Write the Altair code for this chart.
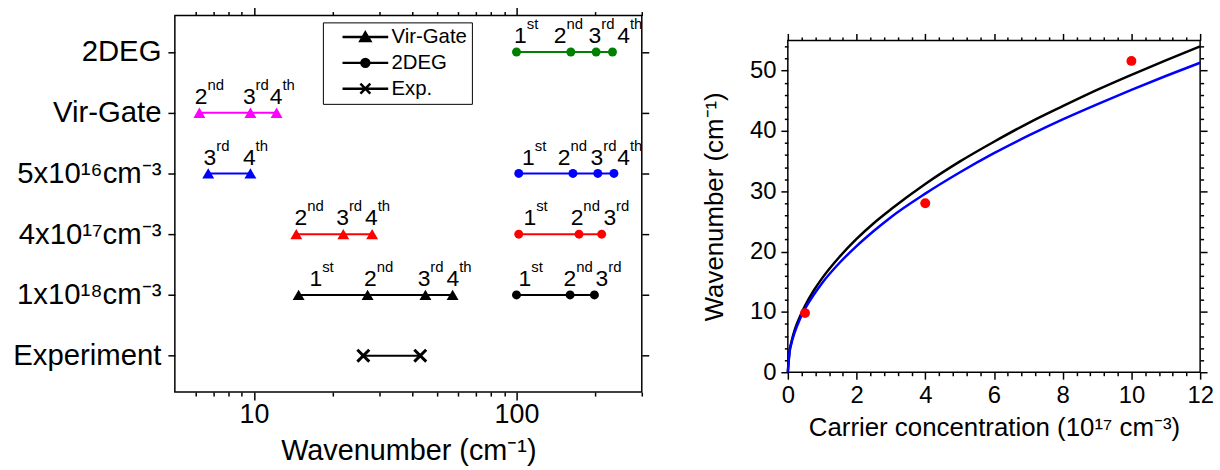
import altair as alt
import pandas as pd

FONT = "Liberation Sans"

# ---------------- left panel data ----------------
row_labels = ["2DEG", "Vir-Gate", "5x10¹⁶cm⁻³", "4x10¹⁷cm⁻³", "1x10¹⁸cm⁻³", "Experiment"]
legend_kinds = ["Vir-Gate", "2DEG", "Exp."]

# wavenumbers (cm-1), order numbers of the modes and the x where each order label sits
deg_2deg_x = [100, 161, 201, 232]
deg_2deg_ord = [1, 2, 3, 4]
deg_2deg_lx = [109.4, 155.0, 210.2, 270.5]

vg_vg_x = [6.2, 9.7, 12.2]
vg_vg_ord = [2, 3, 4]
vg_vg_lx = [6.65, 10.15, 12.84]

n16_vg_x = [6.7, 9.7]
n16_vg_ord = [3, 4]
n16_vg_lx = [7.19, 10.15]

n16_2deg_x = [102, 164, 204, 235]
n16_2deg_ord = [1, 2, 3, 4]
n16_2deg_lx = [117.3, 160.5, 213.9, 270.5]

n17_vg_x = [14.5, 21.9, 28.2]
n17_vg_ord = [2, 3, 4]
n17_vg_lx = [15.96, 23.0, 29.6]

n17_2deg_x = [102, 173, 211]
n17_2deg_ord = [1, 2, 3]
n17_2deg_lx = [118.8, 179.7, 239.5]

n18_vg_x = [14.8, 27.1, 45.0, 57.1]
n18_vg_ord = [1, 2, 3, 4]
n18_vg_lx = [18.19, 29.37, 46.99, 60.5]

n18_2deg_x = [100, 160, 198]
n18_2deg_ord = [1, 2, 3]
n18_2deg_lx = [113.8, 169.0, 223.4]

exp_x = [26.1, 43.0]

SUFFIX = {1: "st", 2: "nd", 3: "rd", 4: "th"}

series = [
    (row_labels[0], "2DEG", "#008000", deg_2deg_x, deg_2deg_ord, deg_2deg_lx),
    (row_labels[1], "Vir-Gate", "#ff00ff", vg_vg_x, vg_vg_ord, vg_vg_lx),
    (row_labels[2], "Vir-Gate", "#0000ff", n16_vg_x, n16_vg_ord, n16_vg_lx),
    (row_labels[2], "2DEG", "#0000ff", n16_2deg_x, n16_2deg_ord, n16_2deg_lx),
    (row_labels[3], "Vir-Gate", "#ff0000", n17_vg_x, n17_vg_ord, n17_vg_lx),
    (row_labels[3], "2DEG", "#ff0000", n17_2deg_x, n17_2deg_ord, n17_2deg_lx),
    (row_labels[4], "Vir-Gate", "#000000", n18_vg_x, n18_vg_ord, n18_vg_lx),
    (row_labels[4], "2DEG", "#000000", n18_2deg_x, n18_2deg_ord, n18_2deg_lx),
    (row_labels[5], "Exp.", "#000000", exp_x, [], []),
]

pts, labs = [], []
for i, (row, model, col, xs, ords, lxs) in enumerate(series):
    for x in xs:
        pts.append({"grp": i, "row": row, "model": model, "color": col, "x": x})
    for o, lx in zip(ords, lxs):
        labs.append({"row": row, "lx": lx, "digit": str(o), "suf": SUFFIX[o]})
pts_df = pd.DataFrame(pts)
labs_df = pd.DataFrame(labs)
legend_df = pd.DataFrame({"kind": legend_kinds})

X_PATH = "M-1,-1L1,1M-1,1L1,-1"
# legend symbols: a line with the marker on it (unit = 5 px at symbolSize 100)
legend_paths = [
    "M1.0,0L10.2,0M5.6,-0.9L6.6,0.8L4.6,0.8Z",
    "M1.0,0L10.2,0M6.4,0A0.8,0.8,0,1,1,4.8,0A0.8,0.8,0,1,1,6.4,0Z",
    "M1.0,0L10.2,0M4.6,-1L6.6,1M4.6,1L6.6,-1",
]

# ---------------- right panel data ----------------
cc = [0, 0.05, 0.1, 0.2, 0.35, 0.5, 0.75, 1, 1.5, 2, 2.5, 3, 4, 5, 6, 7, 8, 9, 10, 11, 12]
black_wn = [0, 3.5, 4.9, 7.0, 9.2, 11.0, 13.5, 15.6, 19.1, 22.1, 24.7, 27.0, 31.2, 34.9,
            38.2, 41.3, 44.1, 46.8, 49.3, 51.7, 54.0]
blue_wn = [0, 3.3, 4.7, 6.6, 8.8, 10.5, 12.8, 14.8, 18.1, 20.9, 23.4, 25.7, 29.6, 33.1,
           36.3, 39.2, 41.9, 44.4, 46.8, 49.1, 51.3]
exp_cc = [0.5, 4, 10]
exp_wn = [9.8, 28.0, 51.6]

curves_df = pd.DataFrame({"cc": cc * 2, "wn": black_wn + blue_wn,
                          "model": ["black"] * len(cc) + ["blue"] * len(cc)})
exp_df = pd.DataFrame({"cc": exp_cc, "wn": exp_wn})

# ---------------- left panel ----------------
lx_ticks = [6, 7, 8, 9, 10, 20, 30, 40, 50, 60, 70, 80, 90, 100, 200, 300]
lx_major = "(datum.value == 10 || datum.value == 100)"
xs_left = alt.Scale(type="log", domain=[5, 300], nice=False)
ys_left = alt.Scale(type="point", domain=row_labels, padding=0.6)

x_bottom_left = alt.Axis(orient="bottom", values=lx_ticks, labelExpr=f"{lx_major} ? datum.label : ''",
                         tickSize={"condition": {"test": lx_major, "value": 8}, "value": 4},
                         title="Wavenumber (cm⁻¹)", labelFontSize=27, titleFontSize=29,
                         labelPadding=2, titlePadding=9, labelOverlap=False, labelFlush=False)
x_top_left = alt.Axis(orient="top", values=lx_ticks, labels=False, title=None,
                      tickSize={"condition": {"test": lx_major, "value": 8}, "value": 4})
y_left_left = alt.Axis(orient="left", title=None, labelFontSize=29.5, tickSize=7, labelPadding=7)
y_right_left = alt.Axis(orient="right", title=None, labels=False, tickSize=7)

base_left = alt.Chart(pts_df)
lines_l = base_left.mark_line(strokeWidth=2).encode(
    x=alt.X("x:Q", scale=xs_left, axis=x_bottom_left),
    y=alt.Y("row:N", scale=ys_left, axis=y_left_left),
    color=alt.Color("color:N", scale=None),
    detail="grp:N",
    order="x:Q",
)
tri_l = base_left.transform_filter("datum.model == 'Vir-Gate'").mark_point(
    filled=True, opacity=1, shape="triangle-up", size=144).encode(
    x=alt.X("x:Q", scale=xs_left, axis=x_top_left),
    y=alt.Y("row:N", scale=ys_left, axis=y_right_left),
    color=alt.Color("color:N", scale=None),
)
circ_l = base_left.transform_filter("datum.model == '2DEG'").mark_point(
    filled=True, opacity=1, shape="circle", size=81).encode(
    x=alt.X("x:Q", scale=xs_left, axis=None),
    y=alt.Y("row:N", scale=ys_left, axis=None),
    color=alt.Color("color:N", scale=None),
)
x_l = base_left.transform_filter("datum.model == 'Exp.'").mark_point(
    filled=False, opacity=1, shape=X_PATH, size=144, strokeWidth=3).encode(
    x=alt.X("x:Q", scale=xs_left, axis=None),
    y=alt.Y("row:N", scale=ys_left, axis=None),
    color=alt.Color("color:N", scale=None),
)
digits_l = alt.Chart(labs_df).mark_text(
    align="right", baseline="alphabetic", dy=-9, fontSize=23, font=FONT, color="black").encode(
    x=alt.X("lx:Q", scale=xs_left, axis=None),
    y=alt.Y("row:N", scale=ys_left, axis=None),
    text="digit:N",
)
sups_l = alt.Chart(labs_df).mark_text(
    align="left", baseline="alphabetic", dy=-23, fontSize=15, font=FONT, color="black").encode(
    x=alt.X("lx:Q", scale=xs_left, axis=None),
    y=alt.Y("row:N", scale=ys_left, axis=None),
    text="suf:N",
)
legend_l = alt.Chart(legend_df).transform_filter("false").mark_point(
    filled=False, color="black", fill="black", strokeWidth=2.5, opacity=1).encode(
    shape=alt.Shape("kind:N", scale=alt.Scale(domain=legend_kinds, range=legend_paths),
                    legend=alt.Legend(title=None, orient="none", legendX=149, legendY=7,
                                      strokeColor="black", fillColor="white", padding=4.5,
                                      symbolSize=100, symbolStrokeWidth=2.5, symbolOpacity=1,
                                      labelFontSize=20.5, labelFont=FONT, labelColor="black",
                                      labelOffset=44, rowPadding=5)),
)

left = alt.layer(lines_l, tri_l, circ_l, x_l, digits_l, sups_l, legend_l).resolve_axis(
    x="independent", y="independent").properties(width=470, height=379)

# ---------------- right panel ----------------
rx_ticks = [round(0.4 * i, 1) for i in range(31)]
rx_major = "(abs(datum.value / 2 - round(datum.value / 2)) < 0.001)"
ry_ticks = list(range(0, 56, 2))
ry_major = "(datum.value % 10 == 0)"
xs_right = alt.Scale(domain=[0, 12], nice=False, zero=False)
ys_right = alt.Scale(domain=[0, 55], nice=False)

x_bottom_r = alt.Axis(orient="bottom", values=rx_ticks,
                      labelExpr=f"{rx_major} ? format(datum.value, 'd') : ''",
                      tickSize={"condition": {"test": rx_major, "value": 7}, "value": 3.5},
                      title="Carrier concentration (10¹⁷ cm⁻³)", labelFontSize=24, titleFontSize=26,
                      labelPadding=4, titlePadding=8, labelOverlap=False, labelFlush=False)
x_top_r = alt.Axis(orient="top", values=rx_ticks, labels=False, title=None,
                   tickSize={"condition": {"test": rx_major, "value": 7}, "value": 3.5})
y_left_r = alt.Axis(orient="left", values=ry_ticks, labelExpr=f"{ry_major} ? datum.label : ''",
                    tickSize={"condition": {"test": ry_major, "value": 7}, "value": 3.5},
                    title="Wavenumber (cm⁻¹)", labelFontSize=24, titleFontSize=26,
                    labelPadding=5, titlePadding=22, labelOverlap=False, labelFlush=False)
y_right_r = alt.Axis(orient="right", values=ry_ticks, labels=False, title=None,
                     tickSize={"condition": {"test": ry_major, "value": 7}, "value": 3.5})

black_r = alt.Chart(curves_df).transform_filter("datum.model == 'black'").mark_line(
    strokeWidth=2.5, color="black", interpolate="monotone").encode(
    x=alt.X("cc:Q", scale=xs_right, axis=x_bottom_r),
    y=alt.Y("wn:Q", scale=ys_right, axis=y_left_r),
    order="cc:Q",
)
blue_r = alt.Chart(curves_df).transform_filter("datum.model == 'blue'").mark_line(
    strokeWidth=2.5, color="#0000ff", interpolate="monotone").encode(
    x=alt.X("cc:Q", scale=xs_right, axis=x_top_r),
    y=alt.Y("wn:Q", scale=ys_right, axis=y_right_r),
    order="cc:Q",
)
pts_r = alt.Chart(exp_df).mark_circle(size=100, color="#ff0000", opacity=1).encode(
    x=alt.X("cc:Q", scale=xs_right, axis=None),
    y=alt.Y("wn:Q", scale=ys_right, axis=None),
)
right = alt.layer(black_r, blue_r, pts_r).resolve_axis(
    x="independent", y="independent").properties(width=415, height=334)

chart = alt.hconcat(left, right, spacing=50, center=True).properties(
    padding={"left": 12, "top": 4, "right": 5, "bottom": 0}
).configure(font=FONT).configure_view(stroke="black", strokeWidth=1.5).configure_axis(
    domain=False, grid=False, tickColor="black", tickWidth=1.5, labelColor="black",
    titleColor="black", labelFont=FONT, titleFont=FONT, titleFontWeight="normal",
)

chart.save("out.html", embed_options={"renderer": "svg", "actions": False})
